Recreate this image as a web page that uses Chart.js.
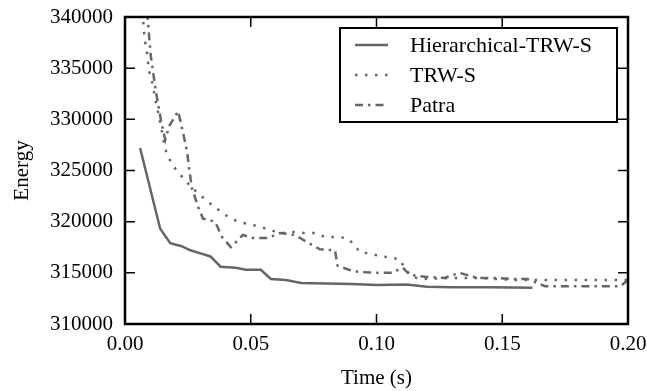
<!DOCTYPE html>
<html>
<head>
<meta charset="utf-8">
<script src="https://cdn.jsdelivr.net/npm/chart.js@4.4.1/dist/chart.umd.min.js"></script>
<style>
  html, body { margin: 0; padding: 0; background: #fff; }
</style>
</head>
<body>
<canvas id="energyChart" width="647" height="391"></canvas>
<script>
// values (time in seconds, energy)
const hierTime = [0.006, 0.014, 0.018, 0.0225, 0.026, 0.030, 0.034, 0.038, 0.044, 0.048, 0.054, 0.058, 0.064, 0.070, 0.080, 0.090, 0.100, 0.112, 0.120, 0.130, 0.145, 0.162];
const hierEnergy = [327200, 319300, 317900, 317600, 317200, 316900, 316600, 315600, 315500, 315300, 315300, 314400, 314300, 314000, 313950, 313900, 313800, 313850, 313650, 313600, 313600, 313550];

const trwsTime = [0.0070, 0.0078, 0.0086, 0.0095, 0.0107, 0.0122, 0.0139, 0.0147, 0.0155, 0.0165, 0.0183, 0.0207, 0.0231, 0.0262, 0.0290, 0.0326, 0.0358, 0.0390, 0.0425, 0.0465, 0.0505, 0.0549, 0.0588, 0.0628, 0.0668, 0.0712, 0.0755, 0.0795, 0.0839, 0.0883, 0.0910, 0.0934, 0.0974, 0.1018, 0.1058, 0.1093, 0.1113, 0.1141, 0.1181, 0.1300, 0.1400, 0.1550, 0.1750, 0.2000];
const trwsEnergy = [340500, 337800, 336800, 334800, 333700, 331800, 329800, 328800, 327700, 326700, 325800, 324900, 324300, 323400, 322800, 322000, 321400, 320800, 320250, 319900, 319700, 319400, 319100, 318900, 319000, 318900, 318900, 318500, 318500, 318400, 317800, 317000, 316900, 316600, 316500, 316300, 315400, 314600, 314400, 314500, 314500, 314300, 314300, 314300];

const patraTime = [0.0088, 0.0098, 0.0103, 0.0123, 0.0143, 0.0160, 0.0175, 0.0211, 0.0231, 0.0247, 0.0256, 0.0266, 0.0290, 0.0310, 0.0358, 0.0386, 0.0421, 0.0469, 0.0509, 0.0569, 0.0616, 0.0676, 0.0724, 0.0775, 0.0835, 0.0845, 0.0890, 0.0926, 0.0994, 0.1060, 0.1105, 0.1133, 0.1200, 0.1270, 0.1330, 0.1400, 0.1480, 0.1540, 0.1600, 0.1670, 0.1890, 0.1970, 0.2000];
const patraEnergy = [340500, 337500, 336100, 332700, 329900, 328000, 329300, 330800, 328700, 326800, 325000, 323300, 321500, 320300, 320000, 318500, 317500, 318700, 318400, 318400, 318900, 318700, 318000, 317300, 317200, 315700, 315300, 315100, 315000, 315000, 315500, 314800, 314600, 314500, 315000, 314500, 314500, 314400, 314400, 313700, 313700, 313700, 314300];

const seriesNames = ['Hierarchical-TRW-S', 'TRW-S', 'Patra'];
const xTicks = [0, 0.05, 0.10, 0.15, 0.20];
const yTicks = [310000, 315000, 320000, 325000, 330000, 335000, 340000];

const FONT = 'Liberation Serif';
const GREY = '#666666';

function toPoints(xs, ys) {
  return xs.map((x, i) => ({ x: x, y: ys[i] }));
}

// inward ticks on all four sides, the frame and the boxed legend
const frameAndLegend = {
  id: 'frameAndLegend',
  afterDatasetsDraw(chart) {
    const { ctx, chartArea: a, scales } = chart;
    const x = scales.x, y = scales.y;
    ctx.save();
    ctx.strokeStyle = '#000';
    ctx.lineWidth = 1.5;
    ctx.beginPath();
    x.ticks.forEach(t => {
      const px = x.getPixelForValue(t.value);
      ctx.moveTo(px, a.bottom); ctx.lineTo(px, a.bottom - 10);
      ctx.moveTo(px, a.top); ctx.lineTo(px, a.top + 10);
    });
    y.ticks.forEach(t => {
      const py = y.getPixelForValue(t.value);
      ctx.moveTo(a.left, py); ctx.lineTo(a.left + 10, py);
      ctx.moveTo(a.right, py); ctx.lineTo(a.right - 10, py);
    });
    ctx.stroke();
    ctx.lineWidth = 2.5;
    ctx.strokeRect(a.left, a.top, a.right - a.left, a.bottom - a.top);

    // legend
    ctx.fillStyle = '#fff';
    ctx.fillRect(340, 28, 277, 94);
    ctx.lineWidth = 2;
    ctx.strokeRect(340, 28, 277, 94);
    ctx.font = '22px "' + FONT + '"';
    ctx.textBaseline = 'middle';
    chart.data.datasets.forEach((ds, i) => {
      const ly = 45 + i * 30;
      ctx.strokeStyle = ds.borderColor;
      ctx.lineWidth = ds.borderWidth;
      ctx.setLineDash(ds.borderDash || []);
      ctx.beginPath();
      ctx.moveTo(355, ly);
      ctx.lineTo(388, ly);
      ctx.stroke();
      ctx.setLineDash([]);
      ctx.fillStyle = '#000';
      ctx.fillText(ds.label, 410, ly + 1);
    });
    ctx.restore();
  }
};

new Chart(document.getElementById('energyChart').getContext('2d'), {
  type: 'line',
  data: {
    datasets: [
      { label: seriesNames[0], data: toPoints(hierTime, hierEnergy), borderColor: GREY, borderWidth: 2.5 },
      { label: seriesNames[1], data: toPoints(trwsTime, trwsEnergy), borderColor: GREY, borderWidth: 2.5, borderDash: [2.5, 7.5] },
      { label: seriesNames[2], data: toPoints(patraTime, patraEnergy), borderColor: GREY, borderWidth: 2.5, borderDash: [8, 5, 2.5, 5] }
    ]
  },
  options: {
    responsive: false,
    animation: false,
    parsing: false,
    elements: { point: { radius: 0 }, line: { tension: 0, fill: false } },
    layout: { padding: { top: 17, right: 19, left: 0, bottom: 0 } },
    plugins: { legend: { display: false }, tooltip: { enabled: false } },
    scales: {
      x: {
        type: 'linear', min: 0, max: 0.2,
        afterBuildTicks: s => { s.ticks = xTicks.map(v => ({ value: v })); },
        afterFit: s => { s.height = 67; s.paddingLeft = 0; s.paddingRight = 0; },
        ticks: { color: '#000', padding: 0, font: { family: FONT, size: 21 }, callback: v => v.toFixed(2), maxRotation: 0 },
        grid: { display: false },
        border: { display: false },
        title: { display: true, text: 'Time (s)', color: '#000', font: { family: FONT, size: 21 }, padding: { top: 0, bottom: 0 } }
      },
      y: {
        type: 'linear', min: 310000, max: 340000,
        afterBuildTicks: s => { s.ticks = yTicks.map(v => ({ value: v })); },
        afterFit: s => { s.width = 125; s.paddingTop = 0; s.paddingBottom = 0; },
        ticks: { color: '#000', padding: 4, font: { family: FONT, size: 21 }, callback: v => String(v) },
        grid: { display: false },
        border: { display: false },
        title: { display: true, text: 'Energy', color: '#000', font: { family: FONT, size: 21 }, padding: { top: 10, bottom: 0 } }
      }
    }
  },
  plugins: [frameAndLegend]
});
</script>
</body>
</html>
